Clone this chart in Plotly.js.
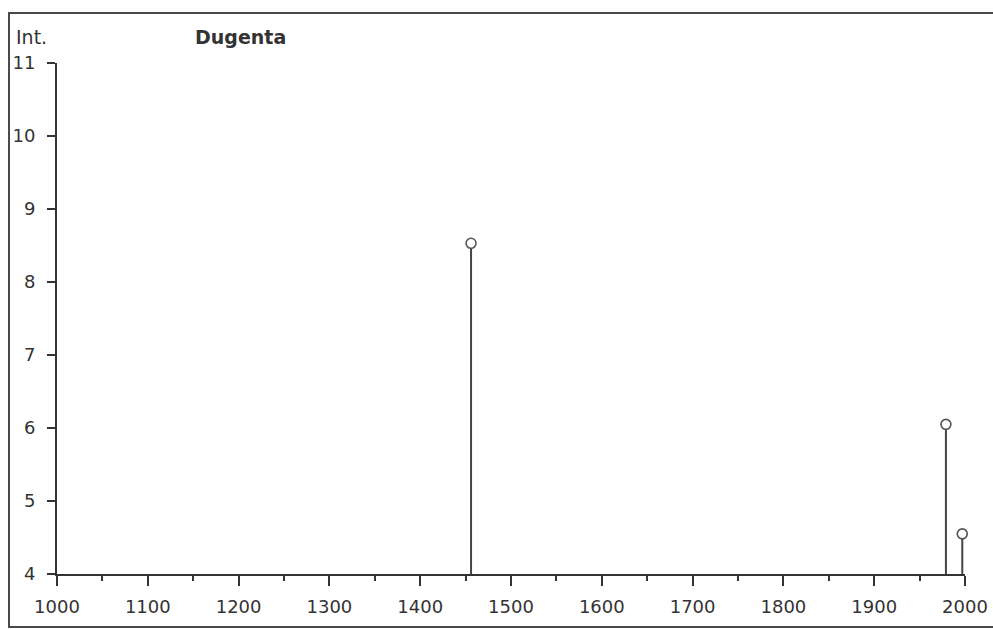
<!DOCTYPE html>
<html>
<head>
<meta charset="utf-8">
<script src="https://cdn.plot.ly/plotly-3.0.1.min.js"></script>
<style>html,body{margin:0;padding:0;background:#fff;}#chart{width:993px;height:629px;}</style>
</head>
<body>
<div id="chart"></div>
<script>
// Data
const positions = [1456, 1979, 1997];
const intensities = [8.53, 6.05, 4.55];
const baseline = 4;
const xTickVals = [1000, 1100, 1200, 1300, 1400, 1500, 1600, 1700, 1800, 1900, 2000];
const xTickText = ['1000', '1100', '1200', '1300', '1400', '1500', '1600', '1700', '1800', '1900', '2000'];
const yTickVals = [4, 5, 6, 7, 8, 9, 10, 11];
const yTickText = ['4', '5', '6', '7', '8', '9', '10', '11'];
const yLabel = 'Int.';
const chartTitle = 'Dugenta';

const ink = '#333333';
const fontFam = '"DejaVu Sans", Verdana, sans-serif';

const trace = {
  type: 'scatter',
  mode: 'markers',
  x: positions,
  y: intensities,
  marker: {symbol: 'circle', size: 10, color: '#ffffff', line: {color: '#555555', width: 1.6}},
  error_y: {
    type: 'data', symmetric: false,
    array: intensities.map(() => 0),
    arrayminus: intensities.map(v => v - baseline),
    width: 0, thickness: 2, color: '#444444'
  },
  hoverinfo: 'x+y',
  showlegend: false,
  cliponaxis: false
};

const layout = {
  width: 993, height: 629,
  margin: {l: 57, r: 28, t: 63, b: 55},
  paper_bgcolor: '#ffffff', plot_bgcolor: '#ffffff',
  font: {family: fontFam, size: 18, color: ink},
  showlegend: false,
  xaxis: {
    range: [1000, 2000], tickmode: 'array', tickvals: xTickVals, ticktext: xTickText,
    showgrid: false, zeroline: false, showline: true, linecolor: ink, linewidth: 2,
    ticks: 'outside', ticklen: 10, tickwidth: 2, tickcolor: ink, ticklabelstandoff: 5,
    minor: {dtick: 50, tick0: 1000, ticks: 'outside', ticklen: 5, tickwidth: 2, tickcolor: ink, showgrid: false},
    tickfont: {family: fontFam, size: 18, color: ink}, fixedrange: true
  },
  yaxis: {
    range: [4, 11], tickmode: 'array', tickvals: yTickVals, ticktext: yTickText,
    showgrid: false, zeroline: false, showline: true, linecolor: ink, linewidth: 2,
    ticks: 'outside', ticklen: 8, tickwidth: 2, tickcolor: ink, ticklabelstandoff: 8,
    tickfont: {family: fontFam, size: 18, color: ink}, fixedrange: true
  },
  shapes: [{
    type: 'rect', xref: 'paper', yref: 'paper',
    x0: -48 / 908, x1: 1.2, y0: -53 / 511, y1: 1 + 50 / 511,
    line: {color: '#4a4a4a', width: 2}, fillcolor: 'rgba(0,0,0,0)', layer: 'below'
  }],
  annotations: [
    {text: yLabel, xref: 'paper', yref: 'paper', x: -43 / 908, y: 1 + 26 / 511,
     xanchor: 'left', yanchor: 'middle', showarrow: false,
     font: {family: fontFam, size: 19, color: ink}},
    {text: '<b>' + chartTitle + '</b>', xref: 'paper', yref: 'paper', x: 136 / 908, y: 1 + 26 / 511,
     xanchor: 'left', yanchor: 'middle', showarrow: false,
     font: {family: fontFam, size: 19, color: ink}}
  ]
};

Plotly.newPlot('chart', [trace], layout, {displayModeBar: false, staticPlot: true});
</script>
</body>
</html>
